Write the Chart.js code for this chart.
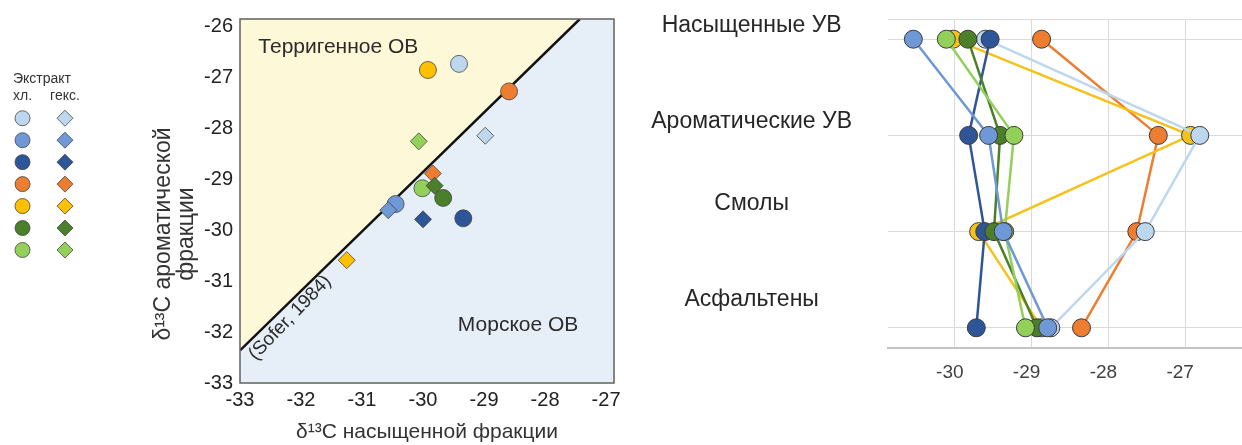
<!DOCTYPE html>
<html lang="ru">
<head>
<meta charset="utf-8">
<title>δ13C фракций экстрактов</title>
<script src="https://cdn.jsdelivr.net/npm/chart.js@4.4.1/dist/chart.umd.min.js"></script>
<style>
  html, body { margin: 0; padding: 0; background: #fff; }
  body { width: 1242px; height: 445px; position: relative; overflow: hidden; }
  canvas { position: absolute; }
  #legendChart { left: 13px; top: 60px; }
  #soferChart { left: 150px; top: 0; }
  #fracChart { left: 640px; top: 0; }
</style>
</head>
<body>
<canvas id="legendChart" width="80" height="210"></canvas>
<canvas id="soferChart" width="480" height="445"></canvas>
<canvas id="fracChart" width="602" height="445"></canvas>
<script>
// цвета образцов, в порядке легенды
const sampleColors = ['#bdd7ee', '#6f98d6', '#2e5597', '#ed7d31', '#ffc000', '#4c7f2a', '#92d05a'];
const legendTitle = 'Экстракт';
const extractLabels = ['хл.', 'гекс.'];
const legendRows = [0, 1, 2, 3, 4, 5, 6];

// δ13C насыщенной (x) и ароматической (y) фракции
const satChl = [-29.41, -30.45, -29.34, -28.59, -29.92, -29.67, -30.01];
const aroChl = [-26.74, -29.49, -29.77, -27.28, -26.86, -29.37, -29.18];
const satHex = [-28.98, -30.57, -30.00, -29.84, -31.25, -29.81, -30.07];
const aroHex = [-28.15, -29.61, -29.79, -28.89, -30.59, -29.13, -28.26];

// линия Sofer (1984)
const soferSat = [-33, -27.43];
const soferAro = [-32.36, -25.86];

const satTicks = [-33, -32, -31, -30, -29, -28, -27];
const aroTicks = [-33, -32, -31, -30, -29, -28, -27, -26];
const satTitle = 'δ¹³C насыщенной фракции';
const aroTitle = ['δ¹³C ароматической', 'фракции'];
const zoneLabels = [
  { text: 'Терригенное ОВ', x: -32.7, y: -26.42 },
  { text: 'Морское ОВ', x: -29.43, y: -31.87 }
];
const soferLabel = { text: '(Sofer, 1984)', x: -32.18, y: -31.72 };

// δ13C по фракциям
const fractions = ['Насыщенные УВ', 'Ароматические УВ', 'Смолы', 'Асфальтены'];
const fracTicks = [-30, -29, -28, -27];
const fracLightBlue = [-29.60, -26.81, -27.52, -28.75];
const fracMidBlue = [-30.54, -29.56, -29.37, -28.79];
const fracDarkBlue = [-29.54, -29.82, -29.61, -29.72];
const fracOrange = [-28.87, -27.35, -27.63, -28.35];
const fracYellow = [-30.02, -26.93, -29.69, -28.87];
const fracDarkGreen = [-29.83, -29.41, -29.49, -28.93];
const fracLightGreen = [-30.11, -29.23, -29.35, -29.08];

const FONT = '"Liberation Sans", Arial, sans-serif';
Chart.defaults.font.family = FONT;
Chart.defaults.animation = false;
Chart.defaults.plugins.legend.display = false;
Chart.defaults.plugins.tooltip.enabled = false;

const pointBorder = 'rgba(60,60,60,0.75)';

// ---- легенда ----
new Chart(document.getElementById('legendChart'), {
  type: 'scatter',
  data: {
    datasets: [
      {
        data: legendRows.map(r => ({ x: 0, y: r })),
        clip: false,
        pointRadius: 7.5,
        pointBackgroundColor: sampleColors,
        pointBorderColor: pointBorder,
        pointBorderWidth: 1
      },
      {
        data: legendRows.map(r => ({ x: 1, y: r })),
        clip: false,
        pointStyle: 'rectRot',
        pointRadius: 8,
        pointBackgroundColor: sampleColors,
        pointBorderColor: pointBorder,
        pointBorderWidth: 1
      }
    ]
  },
  options: {
    responsive: false,
    layout: { padding: 0, autoPadding: false },
    plugins: {
      title: {
        display: true, text: legendTitle, align: 'start',
        color: '#333', font: { size: 14, weight: 'normal' }, padding: { top: 11, bottom: 0 }
      }
    },
    scales: {
      x: {
        type: 'linear', position: 'top', min: -0.18, max: 1.66,
        afterBuildTicks: ax => { ax.ticks = [0, 1].map(v => ({ value: v })); },
        ticks: { callback: v => extractLabels[v], color: '#333', font: { size: 14 }, padding: 0 },
        grid: { display: false, drawTicks: false },
        border: { display: false }
      },
      y: { type: 'linear', min: -0.62, max: 6.91, reverse: true, display: false }
    }
  }
});

// ---- диаграмма Sofer ----
const soferPlugin = {
  id: 'soferDecor',
  beforeDraw(chart) {
    const { ctx, chartArea: a } = chart;
    ctx.save();
    ctx.fillStyle = '#e6eef8';
    ctx.fillRect(a.left, a.top, a.right - a.left, a.bottom - a.top);
    ctx.restore();
  },
  afterDatasetsDraw(chart) {
    const { ctx, scales: { x, y } } = chart;
    ctx.save();
    ctx.fillStyle = '#2b2b2b';
    ctx.font = '21px ' + FONT;
    ctx.textBaseline = 'middle';
    ctx.textAlign = 'left';
    zoneLabels.forEach(l => ctx.fillText(l.text, x.getPixelForValue(l.x), y.getPixelForValue(l.y)));
    ctx.translate(x.getPixelForValue(soferLabel.x), y.getPixelForValue(soferLabel.y));
    ctx.rotate(-46 * Math.PI / 180);
    ctx.textAlign = 'center';
    ctx.font = '19px ' + FONT;
    ctx.fillText(soferLabel.text, 0, 0);
    ctx.restore();
  },
  afterDraw(chart) {
    const { ctx, chartArea: a } = chart;
    ctx.save();
    ctx.strokeStyle = '#606060';
    ctx.lineWidth = 1.5;
    ctx.strokeRect(a.left, a.top, a.right - a.left, a.bottom - a.top);
    // подпись оси Y
    ctx.fillStyle = '#333';
    ctx.font = '23px ' + FONT;
    ctx.textAlign = 'center';
    ctx.textBaseline = 'middle';
    ctx.translate(a.left - 76, (a.top + a.bottom) / 2 + 33);
    ctx.rotate(-Math.PI / 2);
    aroTitle.forEach((t, i) => ctx.fillText(t, 0, i * 23));
    ctx.restore();
  }
};

new Chart(document.getElementById('soferChart'), {
  type: 'scatter',
  data: {
    datasets: [
      {
        data: satHex.map((v, i) => ({ x: v, y: aroHex[i] })),
        pointStyle: 'rectRot',
        pointRadius: 8.5,
        pointBackgroundColor: sampleColors,
        pointBorderColor: pointBorder,
        pointBorderWidth: 1
      },
      {
        data: satChl.map((v, i) => ({ x: v, y: aroChl[i] })),
        pointRadius: 8.5,
        pointBackgroundColor: sampleColors,
        pointBorderColor: pointBorder,
        pointBorderWidth: 1
      },
      {
        type: 'line',
        data: soferSat.map((v, i) => ({ x: v, y: soferAro[i] })),
        borderColor: '#111',
        borderWidth: 2.5,
        backgroundColor: '#fcf8d8',
        fill: 'end',
        pointRadius: 0
      }
    ]
  },
  options: {
    responsive: false,
    layout: { padding: { top: 15, right: 16, left: 0, bottom: 0 }, autoPadding: false },
    scales: {
      x: {
        type: 'linear', min: -33, max: -26.87,
        afterBuildTicks: ax => { ax.ticks = satTicks.map(v => ({ value: v })); },
        afterFit: ax => { ax.height = 62; },
        ticks: { color: '#222', font: { size: 20 }, padding: 5 },
        grid: { display: false, drawTicks: false },
        border: { display: false },
        title: { display: true, text: satTitle, color: '#333', font: { size: 21 }, padding: { top: 0, bottom: 0 } }
      },
      y: {
        type: 'linear', min: -33, max: -25.86,
        afterBuildTicks: ax => { ax.ticks = aroTicks.map(v => ({ value: v })); },
        afterFit: ax => { ax.width = 90; },
        ticks: { color: '#222', font: { size: 20 }, padding: 7 },
        grid: { display: false, drawTicks: false },
        border: { display: false }
      }
    }
  },
  plugins: [soferPlugin]
});

// ---- δ13C по фракциям ----
const fracSeries = [
  { values: fracMidBlue, color: sampleColors[1], order: 0 },
  { values: fracLightGreen, color: sampleColors[6], order: 1 },
  { values: fracDarkGreen, color: sampleColors[5], order: 2 },
  { values: fracDarkBlue, color: sampleColors[2], order: 3 },
  { values: fracLightBlue, color: sampleColors[0], order: 4 },
  { values: fracYellow, color: '#f5c21b', order: 5 },
  { values: fracOrange, color: sampleColors[3], order: 6 }
];

new Chart(document.getElementById('fracChart'), {
  type: 'scatter',
  data: {
    datasets: fracSeries.map(s => ({
      data: s.values.map((v, i) => ({ x: v, y: i + 1 })),
      showLine: true,
      order: s.order,
      borderColor: s.color,
      borderWidth: 2.5,
      pointRadius: 9,
      pointBackgroundColor: s.color,
      pointBorderColor: '#3a3a3a',
      pointBorderWidth: 1
    }))
  },
  options: {
    responsive: false,
    layout: { padding: { top: 19, right: 0, left: 0, bottom: 0 }, autoPadding: false },
    scales: {
      x: {
        type: 'linear', min: -30.87, max: -26.26,
        afterBuildTicks: ax => { ax.ticks = fracTicks.map(v => ({ value: v })); },
        afterFit: ax => { ax.height = 97; ax.paddingLeft = 0; ax.paddingRight = 0; },
        ticks: { color: '#404040', font: { size: 19 }, padding: 13, labelOffset: -5 },
        grid: { color: '#dadada', lineWidth: 1, drawTicks: false },
        border: { display: true, color: '#c4c4c4', width: 2 }
      },
      y: {
        type: 'linear', min: 0.79, max: 4.21, reverse: true,
        afterBuildTicks: ax => { ax.ticks = [ax.min, 1, 2, 3, 4].map(v => ({ value: v })); },
        afterFit: ax => { ax.width = 248; ax.paddingTop = 0; ax.paddingBottom = 0; },
        ticks: {
          // нижние подписи подняты сильнее (пустая вторая строка)
          callback: v => {
            if (!Number.isInteger(v)) return '';
            const name = fractions[v - 1];
            return v > 2 ? [name, ''] : name;
          },
          color: '#262626', font: { size: 23 }, padding: 36,
          crossAlign: 'center', labelOffset: -14
        },
        grid: { color: '#dadada', lineWidth: 1, drawTicks: false },
        border: { display: false }
      }
    }
  }
});
</script>
</body>
</html>
